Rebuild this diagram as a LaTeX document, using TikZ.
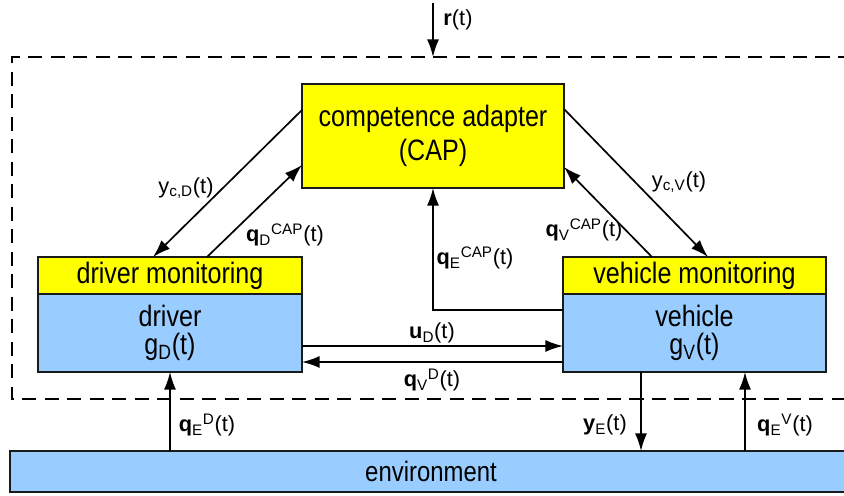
\documentclass[tikz,border=0pt]{standalone}
\usepackage{fontspec}
\setmainfont{Liberation Sans}
\newfontfamily\narrowfont{Liberation Sans}[FakeStretch=0.85]
\usepackage{tikz}
\usetikzlibrary{arrows.meta,calc,positioning}
\definecolor{capyellow}{HTML}{FFFF00}
\definecolor{sysblue}{HTML}{99CCFF}
\definecolor{edgegray}{HTML}{1A1A1A}

\begin{document}
\begin{tikzpicture}[
  blk/.style={rectangle,draw=edgegray,line width=1.3pt,outer sep=0pt,align=center,inner sep=0pt,font=\narrowfont\fontsize{21}{24}\selectfont},
  mon/.style={blk,fill=capyellow,minimum height=0.925cm},
  sys/.style={blk,fill=sysblue,minimum height=1.95cm,font=\narrowfont\fontsize{21}{20}\selectfont},
  arrow/.style={-{Latex[length=4.4mm,width=3mm]},line width=1.2pt},
  sig/.style={font=\fontsize{15.5}{18}\selectfont,inner sep=1pt},
  border/.style={line width=1.4pt,dash pattern=on 10pt off 6pt},
]
\useasboundingbox (0,0) rectangle (21.1,12.375);

% system boundary (open to the right)
\draw[border] (21.3,10.95) -- (0.3,10.95) -- (0.3,2.4) -- (21.3,2.4);

% BLOCKS
\node[blk,fill=capyellow,minimum width=6.55cm,minimum height=2.6cm] (cap) at (10.825,8.975) {competence adapter\\(CAP)};
\node[mon,minimum width=6.6cm] (dmon) at (4.25,5.4875) {driver monitoring};
\node[sys,minimum width=6.6cm,below=0pt of dmon] (drv) {driver\\g\textsubscript{D}(t)};
\node[mon,minimum width=6.575cm] (vmon) at (17.3625,5.4875) {vehicle monitoring};
\node[sys,minimum width=6.575cm,below=0pt of vmon] (veh) {vehicle\\g\textsubscript{V}(t)};
\node[blk,fill=sysblue,minimum width=21.05cm,minimum height=1.025cm,font=\narrowfont\fontsize{20}{22}\selectfont] (env) at (10.775,0.5875) {environment};

% reference input
\coordinate (rsrc) at (10.825,12.3);
\coordinate (rin) at (cap.north |- 0,10.95);
\draw[arrow] (rsrc) -- (rin);

% CAP <-> monitoring
\draw[arrow] ($(cap.north west)+(0,-0.65)$) -- ($(dmon.north west)+(2.875,0)$);
\draw[arrow] ($(dmon.north west)+(4.225,0)$) -- ($(cap.north west)+(0,-2.025)$);
\draw[arrow] ($(cap.north east)+(0,-0.625)$) -- ($(vmon.north west)+(3.625,0)$);
\draw[arrow] ($(vmon.north west)+(2.225,0)$) -- ($(cap.north east)+(0,-2.075)$);
\draw[arrow] ($(veh.north west)+(0,-0.4)$) -| (cap.south);

% driver <-> vehicle
\draw[arrow] ($(drv.east)+(0,-0.325)$) -- ($(veh.west)+(0,-0.325)$);
\draw[arrow] ($(veh.west)+(0,-0.725)$) -- ($(drv.east)+(0,-0.725)$);

% environment
\coordinate (yE) at ($(veh.south)+(-1.3375,0)$);
\coordinate (qEV) at ($(veh.south)+(1.2625,0)$);
\draw[arrow] (env.north -| drv.south) -- (drv.south);
\draw[arrow] (yE) -- (env.north -| yE);
\draw[arrow] (env.north -| qEV) -- (qEV);

% SIGNAL LABELS
\node[sig] (lr) at (11.45,11.875) {\textbf{r}(t)};
\node[sig] (lycd) at (4.65,7.675) {y\textsubscript{c,D}(t)};
\node[sig] (lqdc) at (7.125,6.5) {\textbf{q}\textsubscript{D}\textsuperscript{CAP}(t)};
\node[sig] (lycv) at (16.975,7.825) {y\textsubscript{c,V}(t)};
\node[sig] (lqvc) at (14.6,6.625) {\textbf{q}\textsubscript{V}\textsuperscript{CAP}(t)};
\node[sig] (lqec) at (11.875,5.925) {\textbf{q}\textsubscript{E}\textsuperscript{CAP}(t)};
\node[sig] (lud) at (10.8,4.05) {\textbf{u}\textsubscript{D}(t)};
\node[sig] (lqvd) at (10.8,2.875) {\textbf{q}\textsubscript{V}\textsuperscript{D}(t)};
\node[sig] (lqed) at (5.175,1.75) {\textbf{q}\textsubscript{E}\textsuperscript{D}(t)};
\node[sig] (lye) at (15.125,1.75) {\textbf{y}\textsubscript{E}(t)};
\node[sig] (lqev) at (19.625,1.75) {\textbf{q}\textsubscript{E}\textsuperscript{V}(t)};
\end{tikzpicture}
\end{document}
